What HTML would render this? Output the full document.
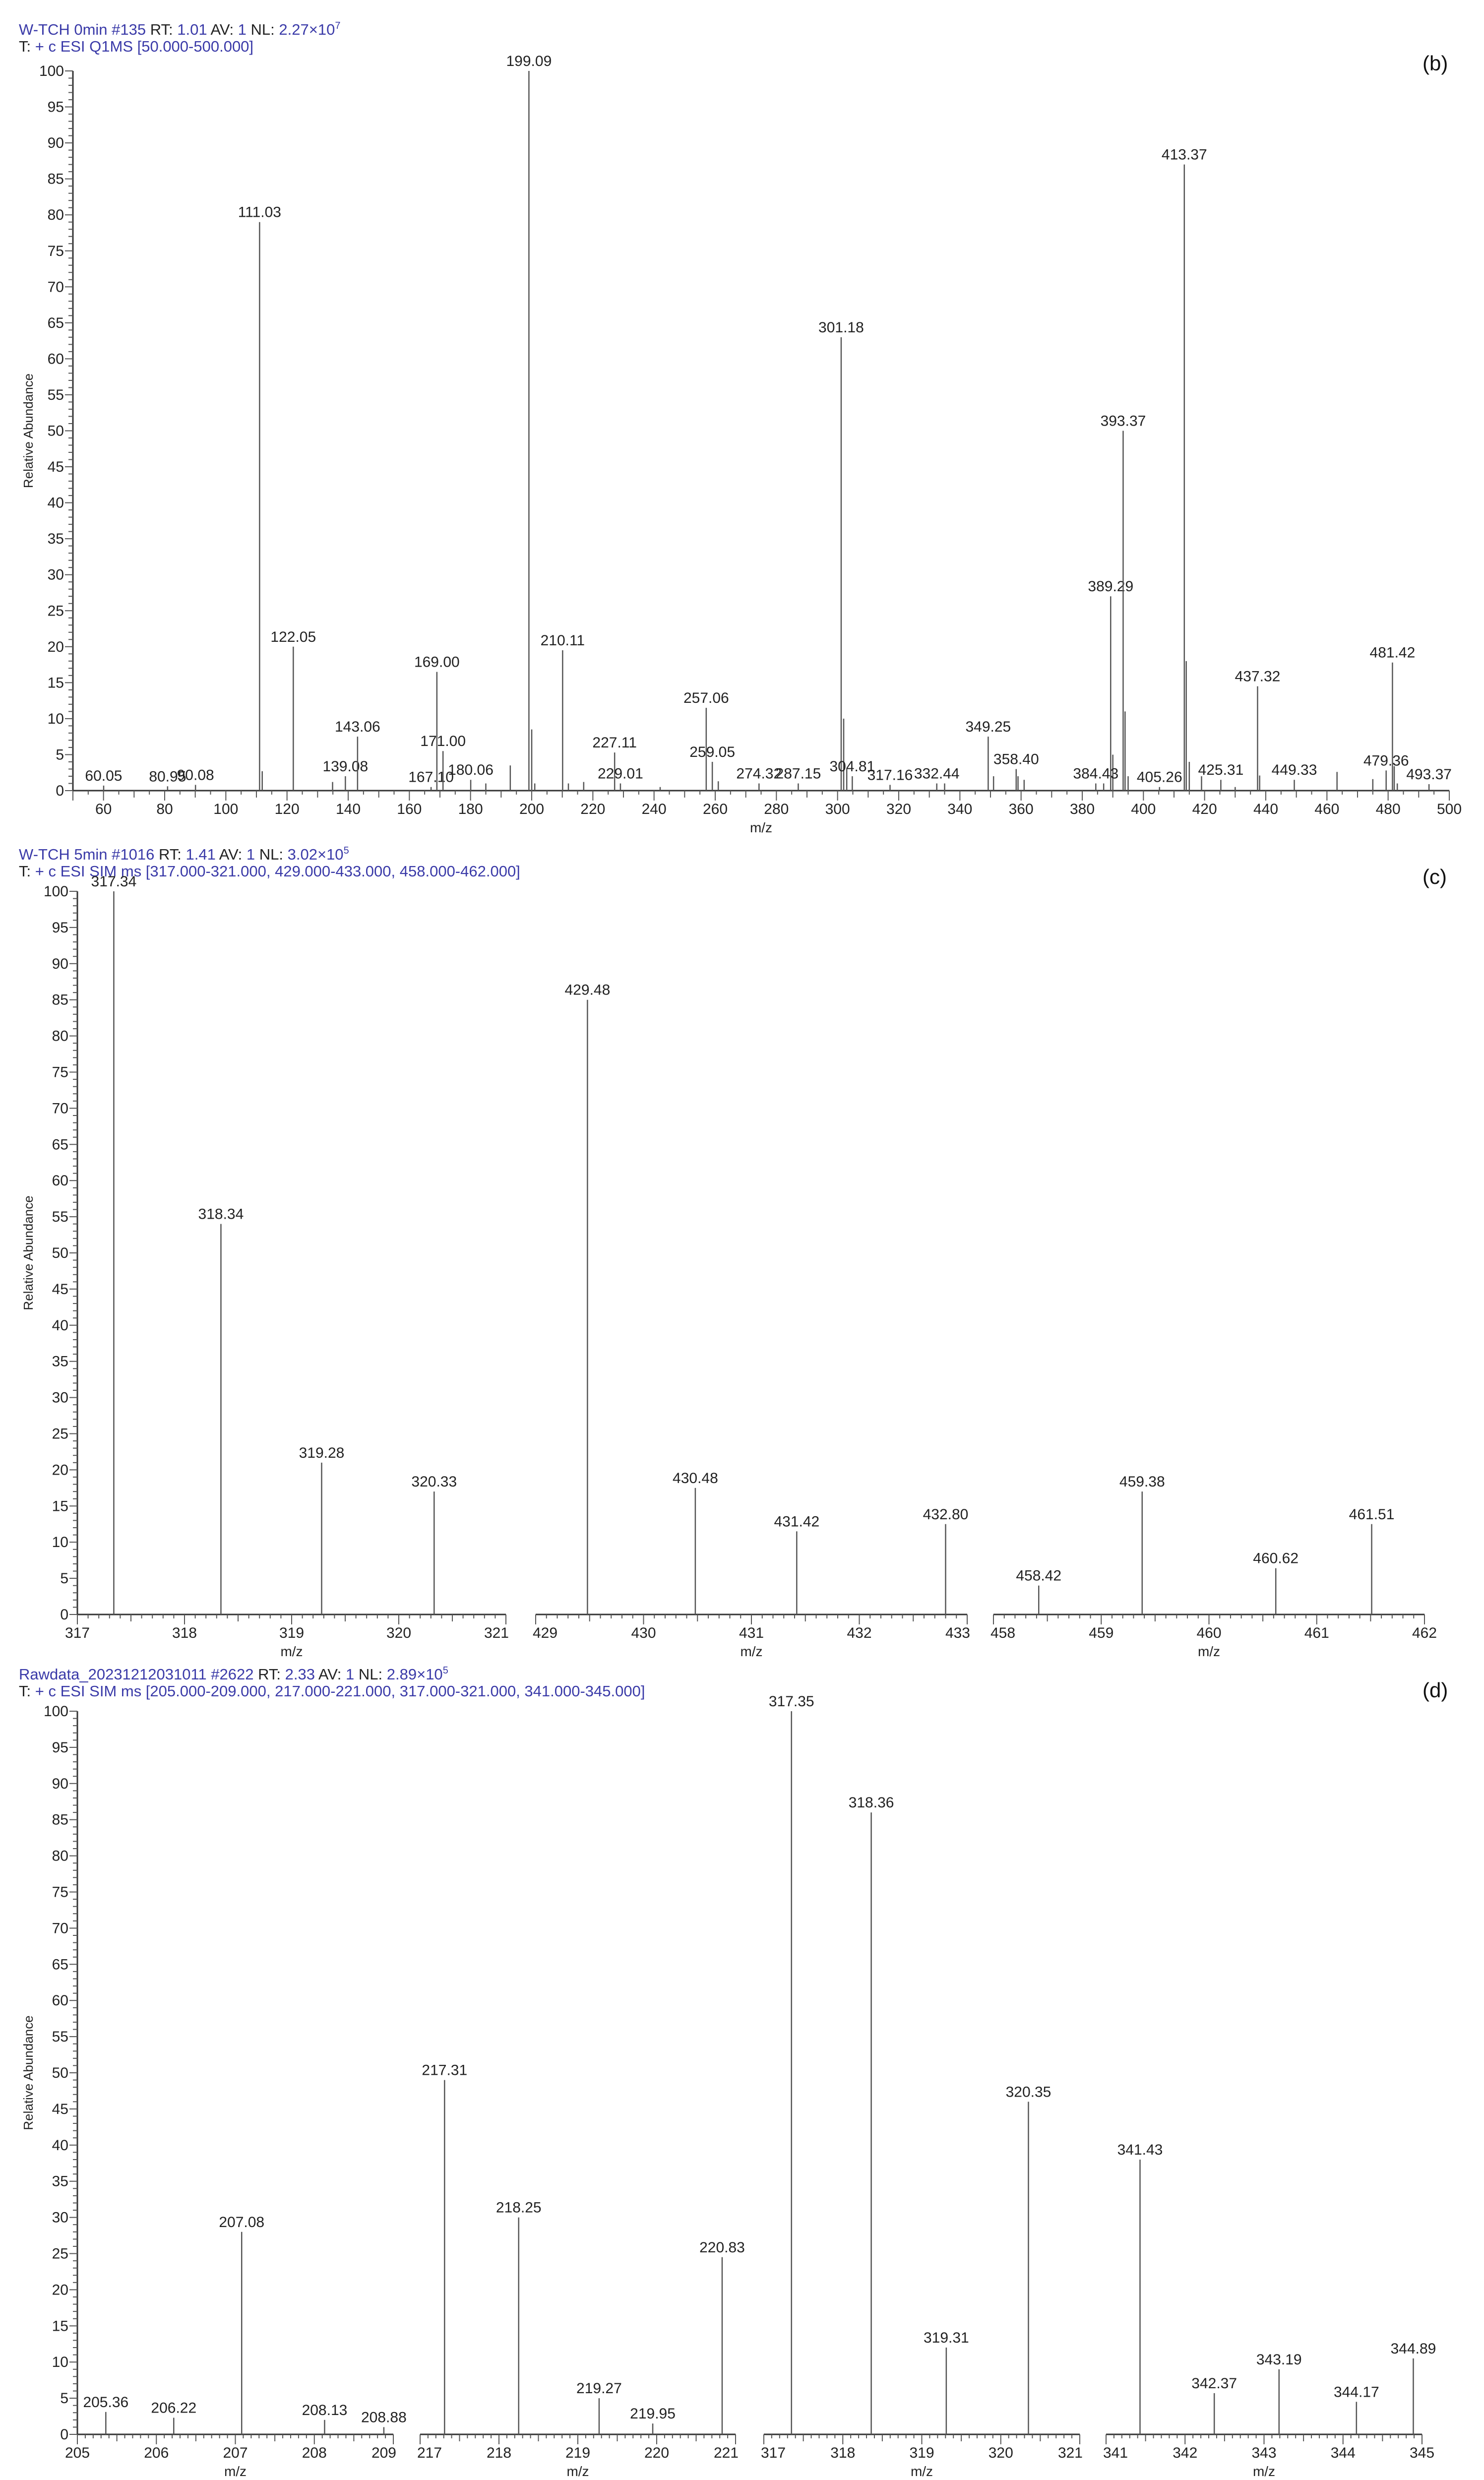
<!DOCTYPE html>
<html><head><meta charset="utf-8"><title>Mass spectra</title>
<style>
html,body{margin:0;padding:0;background:#fff;width:2992px;height:5032px;overflow:hidden;}
svg{display:block;}
text{font-family:"Liberation Sans",sans-serif;}
</style></head>
<body>
<svg id="chart" xmlns="http://www.w3.org/2000/svg" width="2992" height="5032" viewBox="0 0 2992 5032">
<rect x="0" y="0" width="2992" height="5032" fill="#fff"/>
<g font-size="31">
<text x="38" y="70" fill="#3a3aa8">W-TCH 0min #135 <tspan fill="#222">RT:</tspan> 1.01 <tspan fill="#222">AV:</tspan> 1 <tspan fill="#222">NL:</tspan> 2.27×10<tspan font-size="20" dy="-12">7</tspan></text>
<text x="38" y="104" fill="#3a3aa8"><tspan fill="#222">T:</tspan> + c ESI Q1MS [50.000-500.000]</text>
</g>
<g font-size="31">
<text x="38" y="1733" fill="#3a3aa8">W-TCH 5min #1016 <tspan fill="#222">RT:</tspan> 1.41 <tspan fill="#222">AV:</tspan> 1 <tspan fill="#222">NL:</tspan> 3.02×10<tspan font-size="20" dy="-12">5</tspan></text>
<text x="38" y="1767" fill="#3a3aa8"><tspan fill="#222">T:</tspan> + c ESI SIM ms [317.000-321.000, 429.000-433.000, 458.000-462.000]</text>
</g>
<g font-size="31">
<text x="38" y="3386" fill="#3a3aa8">Rawdata_20231212031011 #2622 <tspan fill="#222">RT:</tspan> 2.33 <tspan fill="#222">AV:</tspan> 1 <tspan fill="#222">NL:</tspan> 2.89×10<tspan font-size="20" dy="-12">5</tspan></text>
<text x="38" y="3420" fill="#3a3aa8"><tspan fill="#222">T:</tspan> + c ESI SIM ms [205.000-209.000, 217.000-221.000, 317.000-321.000, 341.000-345.000]</text>
</g>
<text x="2868" y="142" font-size="42" fill="#111">(b)</text>
<text x="2868" y="1782" font-size="42" fill="#111">(c)</text>
<text x="2868" y="3422" font-size="42" fill="#111">(d)</text>
</svg>
<script>
// Panel (b) labeled peaks
const bMz = [60.05,80.95,90.08,111.03,122.05,139.08,143.06,167.10,169.00,171.00,180.06,199.09,210.11,227.11,229.01,257.06,259.05,274.32,287.15,301.18,304.81,317.16,332.44,349.25,358.40,384.43,389.29,393.37,405.26,413.37,425.31,437.32,449.33,479.36,481.42,493.37];
const bAb = [0.7,0.6,0.8,79,20,2,7.5,0.5,16.5,5.5,1.5,100,19.5,5.3,1,11.5,4,1,1,63,2,0.8,1,7.5,3,1,27,50,0.5,87,1.5,14.5,1.5,2.8,17.8,0.9];
// Panel (b) unlabeled peaks
const bMinorMz = [111.9,134.9,185,193,200,201,212,217,242,261,302,303,335,351,359,361,387,390,394,395,414,415,419,430,438,463.3,475,482,483];
const bMinorAb = [2.7,1.2,1,3.5,8.5,1,1,1.2,0.5,1.3,10,3,1,2,2,1.5,1,5,11,2,18,4,2,0.5,2.1,2.6,1.6,3.4,1];
const bXTicks = [60,80,100,120,140,160,180,200,220,240,260,280,300,320,340,360,380,400,420,440,460,480,500];
// Panel (c)
const cMz = [317.34,318.34,319.28,320.33,429.48,430.48,431.42,432.80,458.42,459.38,460.62,461.51];
const cAb = [100,54,21,17,85,17.5,11.5,12.5,4,17,6.4,12.5];
const cXTicks = [317,318,319,320,321,429,430,431,432,433,458,459,460,461,462];
// Panel (d)
const dMz = [205.36,206.22,207.08,208.13,208.88,217.31,218.25,219.27,219.95,220.83,317.35,318.36,319.31,320.35,341.43,342.37,343.19,344.17,344.89];
const dAb = [3.1,2.3,28,2.0,1.0,49,30,5,1.5,24.5,100,86,12,46,38,5.7,9,4.5,10.5];
const dXTicks = [205,206,207,208,209,217,218,219,220,221,317,318,319,320,321,341,342,343,344,345];
const yTicks = [0,5,10,15,20,25,30,35,40,45,50,55,60,65,70,75,80,85,90,95,100];

const NS = "http://www.w3.org/2000/svg";
const svg = document.getElementById('chart');
function mk(tag, attrs, parent){
  const e = document.createElementNS(NS, tag);
  for (const k in attrs) e.setAttribute(k, attrs[k]);
  (parent||svg).appendChild(e);
  return e;
}
function segOf(segs, v){ return segs.find(s => v >= s.lo - 1e-9 && v <= s.hi + 1e-9); }
function xScale(segs, v){ const s = segOf(segs, v); if(!s) return null; return s.x0 + (v - s.lo) / (s.hi - s.lo) * (s.x1 - s.x0); }

function drawPanel(cfg){
  const g = mk('g', {});
  
  
  const yS = v => cfg.y0 - v / 100 * (cfg.y0 - cfg.y100);
  const ax = cfg.segs[0].x0;
  const yAxis = mk('line', {x1:ax, y1:cfg.y100, x2:ax, y2:cfg.y0, stroke:'#333', 'stroke-width':3}, g);
  
  
  for (let v = 0; v <= 100; v++) {
    const major = v % 5 === 0;
    mk('line', {x1:ax - (major?16:9), y1:yS(v), x2:ax, y2:yS(v), stroke:'#555', 'stroke-width':2}, g);
  }
  yTicks.forEach(v => {
    const t = mk('text', {x:ax - 18, y:yS(v) + 10, 'font-size':30, 'text-anchor':'end', fill:'#222'}, g);
    t.textContent = v;
    
    
  });
  const yt = mk('text', {x:0, y:0, 'font-size':26, 'text-anchor':'middle', fill:'#222', transform:`translate(${cfg.titleX},${(cfg.y0+cfg.y100)/2}) rotate(-90)`}, g);
  yt.textContent = 'Relative Abundance';
  
  
  cfg.segs.forEach((s, i) => {
    const xl = mk('line', {x1:s.x0, y1:cfg.y0, x2:s.x1, y2:cfg.y0, stroke:'#333', 'stroke-width':3}, g);
    
    
    const n = Math.round((s.hi - s.lo) / cfg.minor);
    for (let k = 0; k <= n; k++) {
      const v = s.lo + k * cfg.minor;
      const x = s.x0 + k / n * (s.x1 - s.x0);
      let len = 8;
      const r1 = Math.abs(v / cfg.mid - Math.round(v / cfg.mid)) < 1e-6;
      const r2 = Math.abs(v / cfg.major - Math.round(v / cfg.major)) < 1e-6;
      if (r1) len = 14;
      if (r2 || k === 0 || k === n) len = 20;
      mk('line', {x1:x, y1:cfg.y0, x2:x, y2:cfg.y0 + len, stroke:'#555', 'stroke-width':2}, g);
    }
    const mx = mk('text', {x:(s.x0 + s.x1) / 2, y:cfg.y0 + 84, 'font-size':28, 'text-anchor':'middle', fill:'#222'}, g);
    mx.textContent = 'm/z';
    
    
  });
  cfg.xTicks.forEach(v => {
    const x = xScale(cfg.segs, v);
    const s = segOf(cfg.segs, v);
    let anchor = 'middle';
    if (cfg.segs.length > 1) {
      const idx = cfg.segs.indexOf(s);
      if (v === s.hi && idx < cfg.segs.length - 1) anchor = 'end';
      if (v === s.lo && idx > 0) anchor = 'start';
    }
    const t = mk('text', {x:x + (anchor==='end'?6:anchor==='start'?-6:0), y:cfg.y0 + 47, 'font-size':30, 'text-anchor':anchor, fill:'#222'}, g);
    t.textContent = v;
    
    
  });
  (cfg.minorMz || []).forEach((m, i) => {
    const x = xScale(cfg.segs, m);
    const p = mk('line', {x1:x, y1:cfg.y0, x2:x, y2:yS(cfg.minorAb[i]), stroke:'#555', 'stroke-width':2.5}, g);
    
    
  });
  cfg.mz.forEach((m, i) => {
    const x = xScale(cfg.segs, m);
    const y = yS(cfg.ab[i]);
    const p = mk('line', {x1:x, y1:cfg.y0, x2:x, y2:y, stroke:'#555', 'stroke-width':2.5}, g);
    
    
    const t = mk('text', {x:x, y:y - 10, 'font-size':30, 'text-anchor':'middle', fill:'#222'}, g);
    t.textContent = m.toFixed(2);
    
    
  });
}

drawPanel({name:'panel-b-spectrum', y0:1594, y100:143, titleX:66,
  segs:[{lo:50, hi:500, x0:147, x1:2922}], minor:5, mid:10, major:20,
  xTicks:bXTicks, mz:bMz, ab:bAb, minorMz:bMinorMz, minorAb:bMinorAb});
drawPanel({name:'panel-c-spectrum', y0:3255, y100:1797, titleX:66,
  segs:[{lo:317,hi:321,x0:156,x1:1020},{lo:429,hi:433,x0:1080,x1:1950},{lo:458,hi:462,x0:2003,x1:2872}],
  minor:0.1, mid:0.5, major:1, xTicks:cXTicks, mz:cMz, ab:cAb});
drawPanel({name:'panel-d-spectrum', y0:4908, y100:3450, titleX:66,
  segs:[{lo:205,hi:209,x0:156,x1:793},{lo:217,hi:221,x0:847,x1:1483},{lo:317,hi:321,x0:1540,x1:2177},{lo:341,hi:345,x0:2230,x1:2867}],
  minor:0.1, mid:0.5, major:1, xTicks:dXTicks, mz:dMz, ab:dAb});
</script>
</body></html>
